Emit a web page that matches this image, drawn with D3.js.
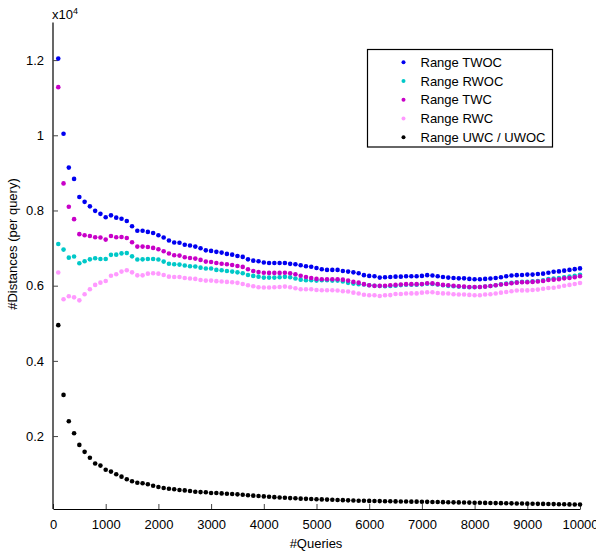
<!DOCTYPE html>
<html>
<head>
<meta charset="utf-8">
<script src="https://cdn.jsdelivr.net/npm/d3@7"></script>
<style>
  body { margin: 0; background: #fff; }
  svg { font-family: "Liberation Sans", Arial, sans-serif; }
</style>
</head>
<body>
<svg id="chart" width="596" height="553"></svg>
<script>
// queries: 100, 200, ... 10000
const queries = d3.range(1, 101).map(i => i * 100);

const twoc = [
  12040, 10040, 9140, 8840, 8360, 8230, 8110, 7990, 7910, 7820,
  7870, 7810, 7780, 7720, 7580, 7460, 7460, 7430, 7400, 7340,
  7280, 7200, 7150, 7140, 7090, 7070, 7040, 6995, 6940, 6925,
  6900, 6880, 6845, 6825, 6790, 6765, 6700, 6665, 6650, 6615,
  6605, 6605, 6605, 6605, 6580, 6570, 6545, 6515, 6505, 6470,
  6435, 6420, 6420, 6420, 6390, 6375, 6355, 6330, 6280, 6260,
  6250, 6215, 6225, 6230, 6240, 6240, 6250, 6250, 6250, 6260,
  6280, 6270, 6250, 6230, 6215, 6205, 6195, 6195, 6180, 6170,
  6170, 6180, 6190, 6205, 6225, 6250, 6270, 6280, 6285, 6295,
  6295, 6310, 6320, 6345, 6370, 6380, 6400, 6420, 6440, 6460
];

const rwoc = [
  7110, 6960, 6745, 6775, 6595, 6650, 6700, 6730, 6710, 6710,
  6820, 6825, 6860, 6870, 6780, 6695, 6700, 6710, 6710, 6695,
  6640, 6585, 6570, 6560, 6535, 6515, 6510, 6480, 6455, 6455,
  6420, 6410, 6390, 6375, 6355, 6330, 6285, 6260, 6240, 6215,
  6215, 6215, 6225, 6235, 6225, 6190, 6160, 6145, 6145, 6135,
  6145, 6145, 6135, 6135, 6110, 6075, 6055, 6040, 6030, 6010,
  6000, 5990, 5985, 5990, 6000, 6015, 6025, 6025, 6025, 6035,
  6050, 6045, 6030, 6010, 5995, 5985, 5975, 5965, 5960, 5960,
  5965, 5975, 5990, 6010, 6035, 6055, 6075, 6090, 6100, 6105,
  6115, 6125, 6140, 6175, 6190, 6200, 6225, 6240, 6265, 6290
];

const twc = [
  11280, 8720, 8100, 7770, 7370, 7340, 7320, 7290, 7280, 7225,
  7320, 7290, 7295, 7270, 7155, 7040, 7040, 7030, 7005, 6970,
  6915, 6855, 6810, 6800, 6755, 6735, 6720, 6685, 6640, 6630,
  6605, 6585, 6570, 6550, 6525, 6500, 6435, 6390, 6365, 6345,
  6340, 6340, 6340, 6345, 6330, 6305, 6265, 6230, 6205, 6180,
  6170, 6170, 6170, 6170, 6160, 6135, 6100, 6080, 6040, 6010,
  5995, 5995, 5998, 6010, 6020, 6030, 6040, 6040, 6040, 6045,
  6065, 6060, 6040, 6020, 6010, 6000, 5985, 5975, 5965, 5965,
  5965, 5975, 5990, 6010, 6030, 6045, 6065, 6080, 6090, 6090,
  6100, 6110, 6125, 6150, 6160, 6170, 6195, 6205, 6225, 6250
];

const rwc = [
  6350, 5640, 5720, 5690, 5610, 5770, 5905, 6020, 6080, 6125,
  6265, 6305, 6375, 6410, 6355, 6275, 6275, 6320, 6330, 6320,
  6285, 6240, 6230, 6230, 6205, 6190, 6180, 6150, 6135, 6135,
  6120, 6110, 6100, 6090, 6075, 6045, 6010, 5985, 5960, 5950,
  5950, 5960, 5965, 5975, 5960, 5930, 5905, 5905, 5905, 5885,
  5880, 5880, 5880, 5870, 5850, 5845, 5815, 5790, 5760, 5745,
  5745, 5725, 5745, 5750, 5780, 5780, 5790, 5795, 5795, 5815,
  5825, 5825, 5805, 5795, 5790, 5770, 5765, 5765, 5755, 5745,
  5745, 5765, 5770, 5790, 5815, 5830, 5850, 5870, 5875, 5875,
  5885, 5895, 5920, 5940, 5945, 5970, 6000, 6020, 6045, 6070
];

const uwc = [
  4950, 3095, 2395, 2075, 1765, 1580, 1425, 1270, 1215, 1105,
  1055, 985, 920, 850, 800, 760, 745, 720, 680, 645,
  620, 600, 585, 565, 555, 540, 520, 510, 505, 485,
  485, 475, 465, 460, 450, 440, 425, 415, 405, 395,
  385, 375, 365, 360, 350, 345, 335, 330, 325, 320,
  315, 310, 305, 300, 295, 290, 285, 280, 278, 275,
  272, 270, 267, 265, 262, 260, 258, 256, 255, 253,
  250, 247, 245, 242, 240, 237, 235, 232, 230, 228,
  225, 222, 220, 217, 215, 212, 210, 207, 205, 202,
  200, 197, 195, 192, 190, 187, 185, 182, 180, 178
];

const seriesNames = ["Range TWOC", "Range RWOC", "Range TWC", "Range RWC", "Range UWC / UWOC"];
const seriesValues = [twoc, rwoc, twc, rwc, uwc];
const seriesColors = ["#0000f0", "#00c8c8", "#c800c8", "#ff99ff", "#000000"];

const xTicks = d3.range(0, 10001, 1000);
const yTicks = [2000, 4000, 6000, 8000, 10000, 12000];
const yTickLabels = ["0.2", "0.4", "0.6", "0.8", "1", "1.2"];

const svg = d3.select("#chart");

const x = d3.scaleLinear().domain([0, 10000]).range([53, 580]);
const y = d3.scaleLinear().domain([60, 13000]).range([509, 22.5]);

// axes: only left and bottom, ticks pointing inward
const xAxis = svg.append("g")
    .attr("transform", "translate(0,509)")
    .call(d3.axisBottom(x).tickValues(xTicks).tickFormat(d3.format("d"))
        .tickSizeInner(-5).tickSizeOuter(0).tickPadding(11));
const yAxis = svg.append("g")
    .attr("transform", "translate(53,0)")
    .call(d3.axisLeft(y).tickValues(yTicks).tickFormat((d, i) => yTickLabels[i])
        .tickSizeInner(-5).tickSizeOuter(0).tickPadding(9));

[xAxis, yAxis].forEach(a => {
    a.select(".domain").attr("stroke", "#000").attr("stroke-width", 1.2);
    a.selectAll(".tick line").attr("stroke", "#444");
    a.selectAll(".tick text")
        .attr("fill", "#000")
        .style("font-size", "13px")
        .style("font-family", "'Liberation Sans', Arial, sans-serif");
});
// y axis line spans the full plot height
yAxis.select(".domain").attr("d", `M0,${y(13000)}V509`);

// dots
seriesValues.forEach((vals, si) => {
    svg.append("g")
        .selectAll("circle")
        .data(vals)
        .enter()
        .append("circle")
        .attr("cx", (d, i) => x(queries[i]))
        .attr("cy", d => y(d))
        .attr("r", 2.3)
        .attr("fill", seriesColors[si]);
});

// labels
svg.append("text")
    .attr("x", 316)
    .attr("y", 548)
    .attr("text-anchor", "middle")
    .style("font-size", "13px")
    .text("#Queries");

svg.append("text")
    .attr("transform", "translate(17,244) rotate(-90)")
    .attr("text-anchor", "middle")
    .style("font-size", "13px")
    .text("#Distances (per query)");

const mult = svg.append("text")
    .attr("x", 52)
    .attr("y", 19)
    .style("font-size", "13px");
mult.append("tspan").text("x10");
mult.append("tspan").attr("dy", -5).style("font-size", "9px").text("4");

// legend
const legend = svg.append("g");
legend.append("rect")
    .attr("x", 367.5)
    .attr("y", 49.5)
    .attr("width", 185)
    .attr("height", 97.5)
    .attr("fill", "#fff")
    .attr("stroke", "#000")
    .attr("stroke-width", 1.2);

const rows = legend.selectAll("g.row")
    .data(seriesNames)
    .enter()
    .append("g")
    .attr("class", "row")
    .attr("transform", (d, i) => `translate(0,${62.3 + i * 18.75})`);

rows.append("circle")
    .attr("cx", 403.5)
    .attr("cy", 0)
    .attr("r", 2)
    .attr("fill", (d, i) => seriesColors[i]);

rows.append("text")
    .attr("x", 420.5)
    .attr("y", 0)
    .attr("dy", "0.35em")
    .style("font-size", "13px")
    .text(d => d);
</script>
</body>
</html>
